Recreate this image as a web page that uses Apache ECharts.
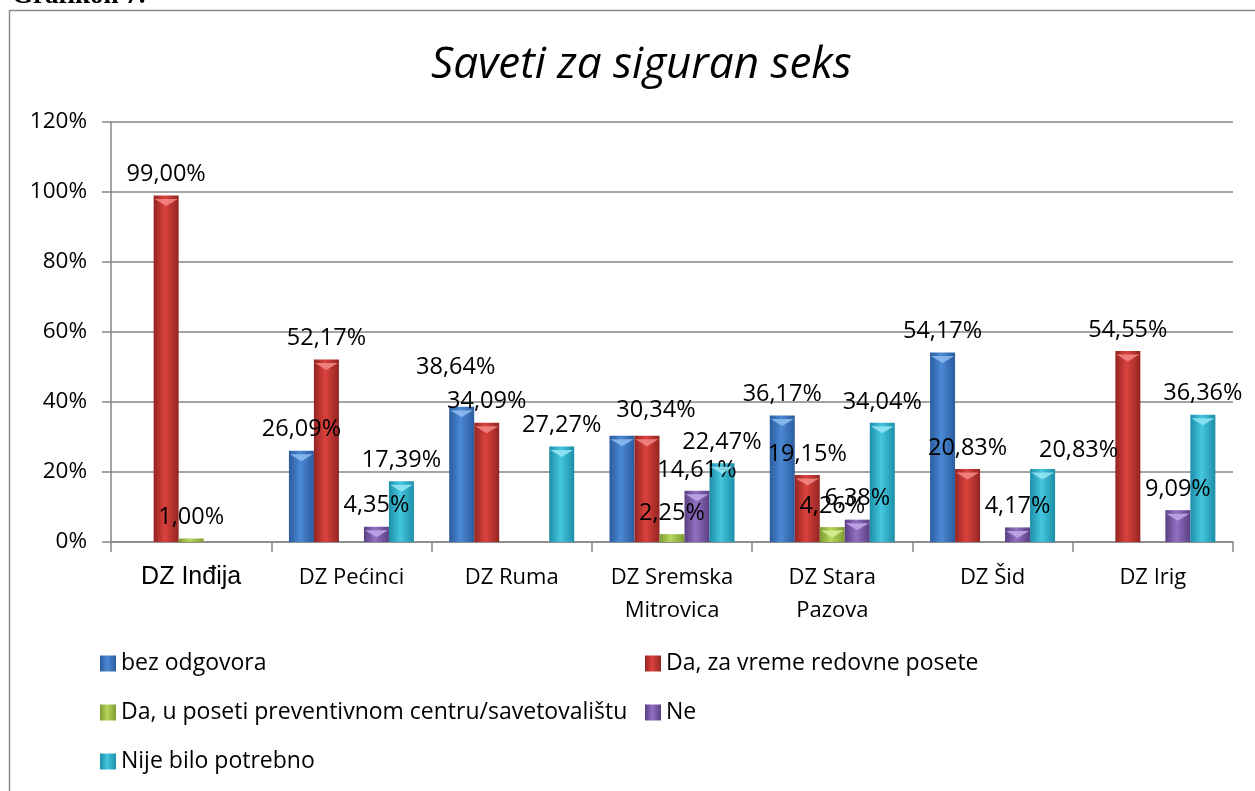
<!DOCTYPE html>
<html>
<head>
<meta charset="utf-8">
<script src="https://cdn.jsdelivr.net/npm/echarts@6/dist/echarts.min.js"></script>
<style>
  html, body { margin: 0; padding: 0; background: #fff; }
  #chart { width: 1255px; height: 791px; }
</style>
</head>
<body>
<div id="chart"></div>
<script>
  // data (percentages)
  const categories = ['DZ Inđija', 'DZ Pećinci', 'DZ Ruma', 'DZ Sremska\nMitrovica', 'DZ Stara\nPazova', 'DZ Šid', 'DZ Irig'];
  const seriesNames = ['bez odgovora', 'Da, za vreme redovne posete', 'Da, u poseti preventivnom centru/savetovalištu', 'Ne', 'Nije bilo potrebno'];
  const bezOdgovora = [0, 26.09, 38.64, 30.34, 36.17, 54.17, 0];
  const redovnePosete = [99.00, 52.17, 34.09, 30.34, 19.15, 20.83, 54.55];
  const preventivniCentar = [1.00, 0, 0, 2.25, 4.26, 0, 0];
  const ne = [0, 4.35, 0, 14.61, 6.38, 4.17, 9.09];
  const nijePotrebno = [0, 17.39, 27.27, 22.47, 34.04, 20.83, 36.36];
  const yTicks = [0, 20, 40, 60, 80, 100, 120];

  const values = [bezOdgovora, redovnePosete, preventivniCentar, ne, nijePotrebno];
  // edge / middle / bevel colours of the shaded bars
  const colors = [
    ['#2b5c9e', '#4a89d4', '#8fbdf0'],
    ['#932522', '#db423d', '#f58a86'],
    ['#7f9b31', '#b7d65b', '#dcf09a'],
    ['#5a3e82', '#9170c2', '#c3a8ea'],
    ['#1d8ea7', '#45c6df', '#95e6f5']
  ];
  const txtFont = '"Open Sans", "Noto Sans", sans-serif';
  // labels that Excel nudged out of the way: series index -> category index -> [dx, dy]
  const labelShift = { 0: { 2: [-6, -18] }, 1: { 3: [9, -4] }, 4: { 5: [36, 2] } };

  function fmt(v) { return v.toFixed(2).replace('.', ',') + '%'; }

  function grad(c) {
    return new echarts.graphic.LinearGradient(0, 0, 1, 0, [
      { offset: 0, color: c[0] },
      { offset: 0.45, color: c[1] },
      { offset: 1, color: c[0] }
    ]);
  }

  let myChart = echarts.init(document.getElementById('chart'));

  let series = seriesNames.map(function (name, i) {
    return {
      name: name,
      type: 'bar',
      barWidth: 25,
      barGap: '0%',
      itemStyle: { color: grad(colors[i]) },
      data: values[i].map(function (v, j) {
        // Excel shows one label where two equal bars meet (DZ Sremska Mitrovica)
        let hide = v === 0 || (i === 0 && v === redovnePosete[j]);
        let lab = { show: !hide };
        if (labelShift[i] && labelShift[i][j]) lab.offset = labelShift[i][j];
        return { value: v, label: lab };
      }),
      label: {
        position: 'top',
        distance: 9,
        color: '#000',
        fontSize: 23.5,
        fontFamily: txtFont,
        formatter: function (p) { return fmt(p.value); }
      },
      z: 2
    };
  });

  // the little bevel triangle on top of every bar
  seriesNames.forEach(function (name, i) {
    series.push({
      name: name + ' top',
      type: 'pictorialBar',
      barWidth: 25,
      barGap: '0%',
      symbol: 'path://M0,0 L2,0 L1,1 Z',
      symbolPosition: 'end',
      symbolSize: [23, 7],
      symbolOffset: [0, '50%'],
      silent: true,
      itemStyle: { color: colors[i][2], opacity: 0.85 },
      data: values[i].map(function (v) {
        return v >= 3 ? v : { value: v, symbolSize: [0, 0] };
      }),
      z: 3
    });
  });

  let legendBase = {
    itemWidth: 16,
    itemHeight: 16,
    itemGap: 10,
    icon: 'rect',
    padding: 0,
    textStyle: { fontSize: 23, fontFamily: txtFont, color: '#000', padding: [0, 0, 0, 0] }
  };
  function legendAt(idx, left, top) {
    return Object.assign({ data: [seriesNames[idx]], left: left, top: top }, legendBase);
  }

  let option = {
    animation: false,
    color: colors.map(function (c) { return c[1]; }),
    title: {
      text: 'Saveti za siguran seks',
      left: 426,
      top: 38,
      textStyle: { fontSize: 44, fontStyle: 'italic', fontWeight: 'normal', fontFamily: txtFont, color: '#000' }
    },
    graphic: [
      { type: 'rect', shape: { x: 9.5, y: 10.5, width: 1260, height: 800 }, style: { fill: 'none', stroke: '#8a8a8a', lineWidth: 1.5 } },
      { type: 'text', x: 12, y: -17, style: { text: 'Grafikon 7.', font: 'bold 27px "Liberation Serif", serif', fill: '#000' } }
    ],
    legend: [
      legendAt(0, 100, 652),
      legendAt(1, 645, 652),
      legendAt(2, 100, 701),
      legendAt(3, 645, 701),
      legendAt(4, 100, 750)
    ],
    grid: { left: 111, right: 22, top: 122, bottom: 249 },
    xAxis: {
      type: 'category',
      data: categories,
      axisLine: { lineStyle: { color: '#868686', width: 1.5 } },
      axisTick: { show: true, length: 10, lineStyle: { color: '#868686', width: 1.5 } },
      axisLabel: {
        interval: 0,
        color: '#000',
        fontSize: 22,
        fontFamily: txtFont,
        lineHeight: 33,
        margin: 19,
        rich: { big: { fontSize: 25, fontFamily: 'Liberation Sans, Arial, sans-serif' } },
        formatter: function (v, i) { return i === 0 ? '{big|' + v + '}' : v; }
      }
    },
    yAxis: {
      type: 'value',
      min: yTicks[0],
      max: yTicks[yTicks.length - 1],
      interval: yTicks[1] - yTicks[0],
      axisLine: { show: true, lineStyle: { color: '#868686', width: 1.5 } },
      axisTick: { show: true, length: 9, lineStyle: { color: '#868686', width: 1.5 } },
      splitLine: { lineStyle: { color: '#868686', width: 1.5 } },
      axisLabel: {
        color: '#000',
        fontSize: 22.5,
        fontFamily: txtFont,
        margin: 24,
        formatter: '{value}%'
      }
    },
    series: series
  };

  myChart.setOption(option);
</script>
</body>
</html>
